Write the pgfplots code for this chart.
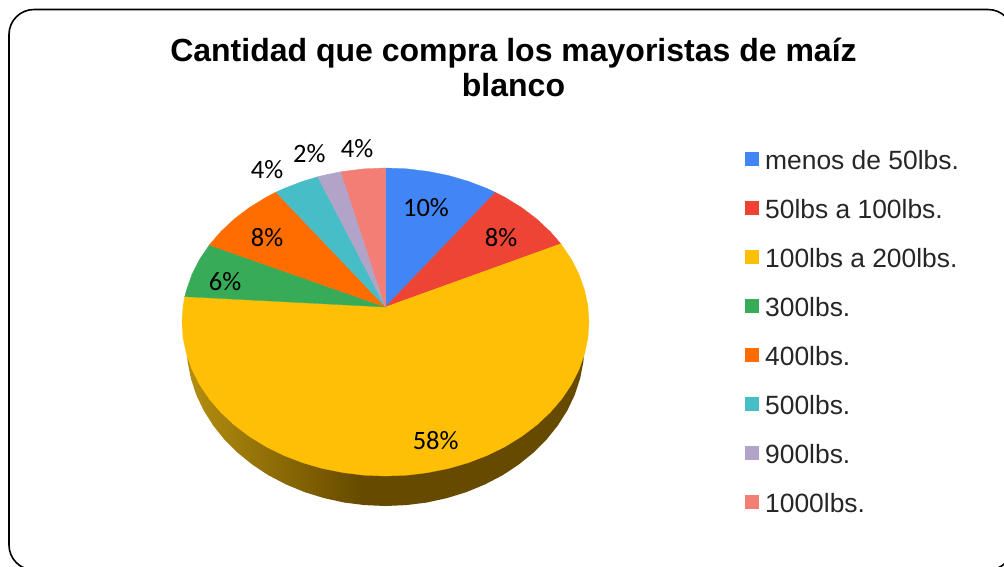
\documentclass[border=0pt]{standalone}
\usepackage{fontspec}
\setmainfont{Liberation Sans}
\newfontfamily\lblfont{Carlito}
\usepackage{pgfplots}
\pgfplotsset{compat=1.18}

\definecolor{c1}{HTML}{4285F4}
\definecolor{c2}{HTML}{EE4435}
\definecolor{c3}{HTML}{FFBF05}
\definecolor{c4}{HTML}{37AB57}
\definecolor{c5}{HTML}{FF6D00}
\definecolor{c6}{HTML}{47BDC7}
\definecolor{c7}{HTML}{B2A3C8}
\definecolor{c8}{HTML}{F37E75}
\definecolor{sa}{HTML}{B58F10}
\definecolor{sb}{HTML}{755600}
\definecolor{sc}{HTML}{654A00}
\pgfdeclarehorizontalshading{pieside}{100bp}{color(0bp)=(sa); color(25bp)=(sa); color(43bp)=(sb); color(47bp)=(sc); color(100bp)=(sc)}

\begin{document}
\begin{tikzpicture}
\path[use as bounding box] (0,0) rectangle (1004pt,566pt);
\begin{axis}[at={(0,0)}, anchor=south west, scale only axis, width=1004pt, height=566pt,
  xmin=0, xmax=1004, ymin=0, ymax=566, y dir=reverse, hide axis, clip=true,
  legend image code/.code={\fill[#1, draw=none] (0pt,-3pt) rectangle (14pt,11pt); \path[draw=none, fill=none] (0pt,0pt) -- (20pt,0pt);},
  legend cell align=left,
  legend style={at={(axis cs:745,150)}, anchor=north west, draw=none, fill=none,
    font=\fontsize{26.4}{30}\selectfont, text=black!85, row sep=24pt, inner sep=0pt,
    nodes={inner sep=0pt, text height=19pt, text depth=6pt}}]

% canto del pastel
\addplot[forget plot, draw=none, shading=pieside] coordinates {
  (584.5,345) (583.4,361.8) (580.1,378.5) (574.8,394.8) (567.3,410.5) (557.8,425.5)
  (546.5,439.6) (533.4,452.7) (518.7,464.6) (502.5,475.3) (485,484.4) (466.4,492.1)
  (447,498.1) (426.9,502.5) (406.3,505.1) (385.5,506) (364.7,505.1) (344.1,502.5)
  (324,498.1) (304.6,492.1) (286,484.4) (268.5,475.3) (252.3,464.6) (237.6,452.7)
  (224.5,439.6) (213.2,425.5) (203.7,410.5) (196.2,394.8) (190.9,378.5) (187.6,361.8)
  (186.5,345)};

% sectores
\addplot[fill=c1, draw=c1, line width=.3pt] coordinates {
  (385.5,307) (385.5,168) (406.8,168.8) (427.8,171.4) (448.4,175.5) (468.3,181.3)
  (487.3,188.6) (495.4,192.4) (385.5,307)};
\addlegendentry{menos de 50lbs.}
\addplot[fill=c2, draw=c2, line width=.3pt] coordinates {
  (385.5,307) (495.4,192.4) (505.1,197.4) (521.7,207.6) (536.7,219) (550.1,231.5)
  (560.8,243.8) (385.5,307)};
\addlegendentry{50lbs a 100lbs.}
\addplot[fill=c3, draw=c3, line width=.3pt] coordinates {
  (385.5,307) (560.8,243.8) (571.4,259.4) (579,274.4) (584.5,290) (587.9,305.9) (589,322)
  (587.9,338.1) (584.5,354) (579,369.6) (571.4,384.6) (561.7,399) (550.1,412.5)
  (536.7,425) (521.7,436.4) (505.1,446.6) (487.3,455.4) (468.3,462.7) (448.4,468.5)
  (427.8,472.6) (406.8,475.2) (385.5,476) (364.2,475.2) (343.2,472.6) (322.6,468.5)
  (302.7,462.7) (283.7,455.4) (265.9,446.6) (249.3,436.4) (234.3,425) (220.9,412.5)
  (209.3,399) (199.6,384.6) (192,369.6) (186.5,354) (183.1,338.1) (182,322)
  (183.1,305.9) (184.8,296.6) (385.5,307)};
\addlegendentry{100lbs a 200lbs.}
\addplot[fill=c4, draw=c4, line width=.3pt] coordinates {
  (385.5,307) (184.8,296.6) (186.5,290) (192,274.4) (199.6,259.4) (209.3,245) (385.5,307)};
\addlegendentry{300lbs.}
\addplot[fill=c5, draw=c5, line width=.3pt] coordinates {
  (385.5,307) (209.3,245) (220.9,231.5) (234.3,219) (249.3,207.6) (265.9,197.4)
  (276,192.1) (385.5,307)};
\addlegendentry{400lbs.}
\addplot[fill=c6, draw=c6, line width=.3pt] coordinates {
  (385.5,307) (276,192.1) (283.7,188.6) (302.7,181.3) (317.7,176.8) (385.5,307)};
\addlegendentry{500lbs.}
\addplot[fill=c7, draw=c7, line width=.3pt] coordinates {
  (385.5,307) (317.7,176.8) (322.6,175.5) (341,171.7) (385.5,307)};
\addlegendentry{900lbs.}
\addplot[fill=c8, draw=c8, line width=.3pt] coordinates {
  (385.5,307) (341,171.7) (364.2,168.8) (385.5,168) (385.5,307)};
\addlegendentry{1000lbs.}

% porcentajes
\addplot[forget plot, only marks, mark=none, point meta=explicit symbolic,
  nodes near coords, every node near coord/.style={anchor=center, inner sep=0pt, text=black,
    font=\lblfont\fontsize{26.5}{30}\selectfont}]
  table[meta=p, row sep=\\] {
  x y p\\
  426 207.3 10\%\\
  501 237.3 8\%\\
  435.7 440.7 58\%\\
  225 281.7 6\%\\
  267 237.3 8\%\\
  267 169.3 4\%\\
  309.3 153.3 2\%\\
  357 149 4\%\\
};

\node[align=center, font=\bfseries\fontsize{32}{35}\selectfont, text=black] at (axis cs:513.5,67.5)
  {Cantidad que compra los mayoristas de maíz\\blanco};
\draw[black, line width=1.6pt, rounded corners=25pt]
  (axis cs:9,9.5) -- (axis cs:1013,9.5) -- (axis cs:1013,570) -- (axis cs:9,570) -- cycle;
\end{axis}
\end{tikzpicture}
\end{document}
